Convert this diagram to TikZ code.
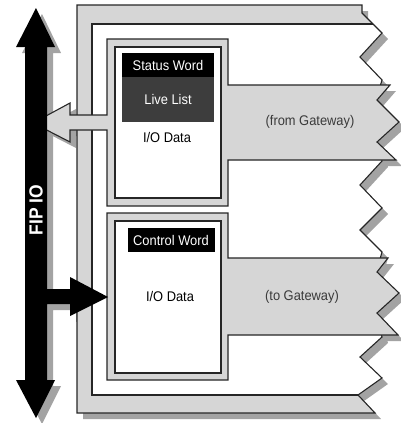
\documentclass[tikz,border=0pt]{standalone}
\usepackage{fontspec}
\setmainfont{Liberation Sans}[FakeStretch=0.92]
\usetikzlibrary{positioning}
\definecolor{ink}      {HTML}{262626}
\definecolor{panel}    {HTML}{D6D6D6}
\definecolor{shade}    {HTML}{A3A3A3}
\definecolor{listgray} {HTML}{3D3D3D}
\definecolor{labelgray}{HTML}{3A3A3A}
\tikzset{
  frameline/.style ={draw=ink, line width=1.1pt, line join=miter},
  panelfill/.style ={frameline, fill=panel},
  shadowfill/.style={fill=shade, draw=none, shift={(6,6)}},
  wordbox/.style   ={fill=black, text=white, inner sep=0pt,
                     minimum height=24pt, font=\fontsize{14}{16}\selectfont},
  listbox/.style   ={fill=listgray, text=white, inner sep=0pt,
                     minimum width=92pt, minimum height=45pt,
                     font=\fontsize{14}{16}\selectfont},
  datatext/.style  ={text=black, inner sep=1pt, font=\fontsize{14}{16}\selectfont},
  bandtext/.style  ={text=labelgray, inner sep=1pt, font=\fontsize{14}{16}\selectfont},
  buslabel/.style  ={text=white, rotate=90, inner sep=1pt,
                     font=\fontsize{19}{21}\selectfont\bfseries},
}
% outlines, pixel units with y pointing down
\newcommand\framepath{(77,5) -- (362,5) -- (362,13) -- (382,33) -- (360,57)
  -- (382,80) -- (370,120) -- (382,161) -- (360,185) -- (382,208) -- (360,230)
  -- (382,252) -- (370,295) -- (382,337) -- (360,357) -- (382,378) -- (358,395)
  -- (375,413) -- (77,413) -- cycle}
\newcommand\innerpath{(92,24) -- (373,24) -- (382,33) -- (360,57)
  -- (382,80) -- (370,120) -- (382,161) -- (360,185) -- (382,208) -- (360,230)
  -- (382,252) -- (370,295) -- (382,337) -- (360,357) -- (382,378) -- (358,395)
  -- (92,395) -- cycle}
\newcommand\statuspath{(107,39) -- (228,39) -- (228,85) -- (390,85) -- (377,100)
  -- (399,122) -- (377,142) -- (396,160) -- (228,160) -- (228,206) -- (107,206)
  -- (107,130) -- (70,130) -- (70,142) -- (33,123) -- (70,103) -- (70,115)
  -- (107,115) -- cycle}
\newcommand\controlpath{(107,213) -- (228,213) -- (228,258) -- (388,258)
  -- (377,272) -- (399,293) -- (377,313) -- (398,335) -- (228,335) -- (228,380)
  -- (107,380) -- cycle}
\newcommand\buspath{(36,8) -- (55,47) -- (47,47) -- (47,289) -- (70,289)
  -- (70,277) -- (108,297) -- (70,316) -- (70,304) -- (47,304) -- (47,380)
  -- (55,380) -- (36,418) -- (16,380) -- (25,380) -- (25,47) -- (16,47) -- cycle}

\begin{document}
\begin{tikzpicture}[x=1pt,y=-1pt]
  \useasboundingbox (0,0) rectangle (400,423);

  % shadows
  \fill[shadowfill] \framepath;
  \fill[shadowfill] \statuspath;
  \fill[shadowfill] \controlpath;
  \fill[shadowfill] \buspath;

  % module frame
  \fill[panel] \framepath;
  \fill[white] \innerpath;
  \draw[frameline] \framepath;
  \draw[frameline] (373,24) -- (92,24) -- (92,395) -- (358,395);

  % status and control areas
  \filldraw[panelfill] \statuspath;
  \filldraw[frameline, fill=white] (115,47) rectangle (221,198);
  \filldraw[panelfill] \controlpath;
  \filldraw[frameline, fill=white] (115,221) rectangle (221,373);

  % FIP IO bus
  \fill[black] \buspath;
  \node[buslabel] (fipio) at (36,210) {FIP IO};

  \node[wordbox, minimum width=92pt] (statusword) at (168,65) {Status Word};
  \node[listbox] (livelist) at (168,99.5) {Live List};
  \node[datatext] (statusdata) at (167,137) {I/O Data};
  \node[bandtext] (fromgw) at (310,122) {(from Gateway)};

  \node[wordbox, minimum width=87pt] (controlword) at (171,240) {Control Word};
  \node[datatext] (controldata) at (170,296) {I/O Data};
  \node[bandtext] (togw) at (302,297) {(to Gateway)};
\end{tikzpicture}
\end{document}
